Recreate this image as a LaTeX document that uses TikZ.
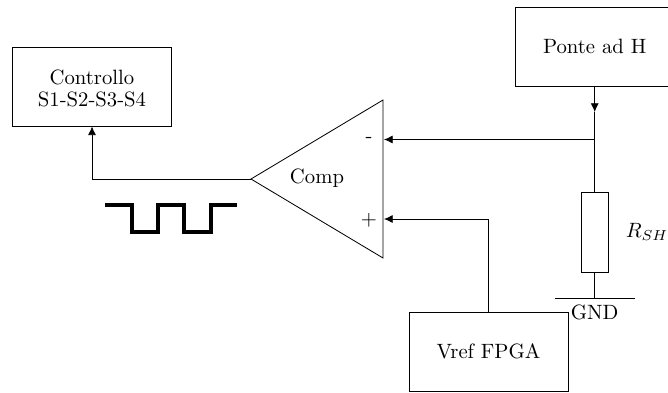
\documentclass[tikz,border=0pt]{standalone}
\usetikzlibrary{arrows.meta}
\tikzset{
  blockbox/.style={draw,line width=0.4pt,minimum width=76.8pt,minimum height=38.2pt,inner sep=0pt,align=center},
  resbox/.style={draw,line width=0.4pt,minimum width=13.2pt,minimum height=38.6pt,inner sep=0pt},
  wire/.style={line width=0.4pt},
  arrowwire/.style={line width=0.4pt,-{Latex[length=4.2pt,width=3.9pt]}},
  lbl/.style={inner sep=0pt},
  pulse/.style={line width=1.7pt,line cap=butt,line join=miter}
}
\begin{document}
\begin{tikzpicture}[x=0.483pt,y=-0.483pt]
\useasboundingbox (0,0) rectangle (668,392);
\node[blockbox] (ctrl) at (92,86.5) {\rule{0pt}{9pt}Controllo\\[-1.5pt]S1-S2-S3-S4};
\node[blockbox] (ponte) at (594.7,46.5) {Ponte ad H};
\node[blockbox] (vref) at (488.5,351.5) {Vref FPGA};
\node[resbox] (rsh) at (594.7,232) {};
% comparator
\coordinate (apex) at (251,179);
\coordinate (ctop) at (383,100);
\coordinate (cbot) at (383,258);
\draw[wire,line join=miter] (apex) -- (ctop) -- (cbot) -- cycle;
\coordinate (inm) at (384,139.5);
\coordinate (inp) at (384,219);
\node[lbl] (complbl) at (317,178) {Comp};
\node[lbl] (minus) at (369,140) {-};
\node[lbl] (plus) at (369,220) {$+$};
% output
\coordinate (outc) at (92,179);
\draw[arrowwire] (apex) -- (outc) -- (ctrl.south);
% square wave
\coordinate (p0) at (105,205);
\coordinate (p1) at (132,205);
\coordinate (p2) at (132,232);
\coordinate (p3) at (158,232);
\coordinate (p4) at (158,205);
\coordinate (p5) at (184,205);
\coordinate (p6) at (184,232);
\coordinate (p7) at (211,232);
\coordinate (p8) at (211,205);
\coordinate (p9) at (237,205);
\draw[pulse] (p0) -- (p1) -- (p2) -- (p3) -- (p4) -- (p5) -- (p6) -- (p7) -- (p8) -- (p9);
% right branch
\coordinate (atip) at (594.7,112);
\coordinate (junc) at (594.7,139.5);
\draw[arrowwire] (ponte.south) -- (atip);
\draw[wire] (atip) -- (junc) -- (rsh.north);
\draw[arrowwire] (junc) -- (inm);
% ground
\coordinate (gnd) at (594.7,298);
\coordinate (gl) at (555,298);
\coordinate (gr) at (635,298);
\draw[wire] (rsh.south) -- (gnd);
\draw[wire] (gl) -- (gr);
\node[lbl] (gndlbl) at (594.7,312) {GND};
\node[lbl] (rlbl) at (647,232) {$R_{SH}$};
% vref
\coordinate (vc) at (488.5,219);
\draw[arrowwire] (vref.north) -- (vc) -- (inp);
\end{tikzpicture}
\end{document}
